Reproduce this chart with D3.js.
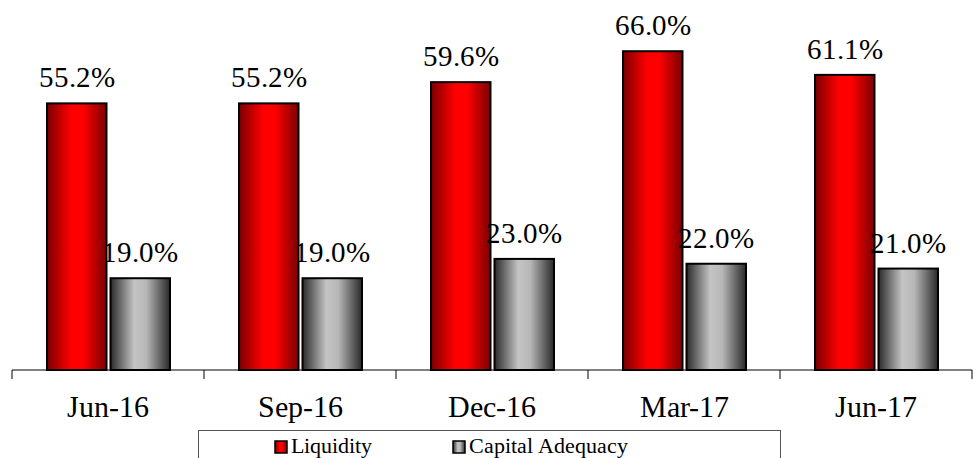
<html><head><meta charset="utf-8">
<script src="https://cdn.jsdelivr.net/npm/d3@7"></script>
<style>
@font-face{font-family:"ChartSerif";src:local("Liberation Serif"),local("LiberationSerif"),local("LiberationSerif-Regular"),local("Times New Roman");}
</style>
</head><body style="margin:0">
<script>
const categories = ["Jun-16","Sep-16","Dec-16","Mar-17","Jun-17"];
const seriesNames = ["Liquidity","Capital Adequacy"];
const liquidity = [55.2,55.2,59.6,66.0,61.1];
const capitalAdequacy = [19.0,19.0,23.0,22.0,21.0];
const valueLabels = [["55.2%","55.2%","59.6%","66.0%","61.1%"],["19.0%","19.0%","23.0%","22.0%","21.0%"]];

const FONT="ChartSerif, Liberation Serif, Times New Roman, serif";
const W=973,H=458;
const svg=d3.select("body").append("svg").attr("width",W).attr("height",H).style("display","block");
const defs=svg.append("defs");
const grads=[["gRed",["#7a0000","#ff0000","#ff0000","#7a0000"]],["gGray",["#2a2a2a","#c4c4c4","#b8b8b8","#2a2a2a"]]];
grads.forEach(([id,cols])=>{
  const g=defs.append("linearGradient").attr("id",id).attr("x1","0").attr("x2","1").attr("y1","0").attr("y2","0");
  [0,0.4,0.6,1].forEach((o,i)=>g.append("stop").attr("offset",o).attr("stop-color",cols[i]));
});
const fills=["url(#gRed)","url(#gGray)"];
const base=370;
const x0=d3.scaleBand().domain(categories).range([12,972]);
const x1=d3.scaleBand().domain(seriesNames).range([35,158]).paddingInner(0.063);
const y=d3.scaleLinear().domain([0,70]).range([base,base-70*4.83]);

const data=[liquidity,capitalAdequacy];
seriesNames.forEach((s,si)=>{
  categories.forEach((c,ci)=>{
    const v=data[si][ci];
    const bx=x0(c)+x1(s);
    svg.append("rect").attr("x",bx).attr("y",y(v)).attr("width",x1.bandwidth()).attr("height",base-y(v))
      .attr("fill",fills[si]).attr("stroke","#000").attr("stroke-width",2);
  });
});
seriesNames.forEach((s,si)=>{
  categories.forEach((c,ci)=>{
    const v=data[si][ci];
    const bx=x0(c)+x1(s);
    svg.append("text").attr("x",bx+x1.bandwidth()/2).attr("y",y(v)-16).attr("text-anchor","middle")
      .style("font-family",FONT).attr("font-size",29).text(valueLabels[si][ci]);
  });
});

// axis
const ax=svg.append("g").attr("transform",`translate(0,${base})`);
ax.append("line").attr("x1",12).attr("x2",972).attr("stroke","#000").attr("stroke-width",1);
const ticks=categories.map(c=>x0(c)).concat([972]);
ticks.forEach(t=>ax.append("line").attr("x1",t).attr("x2",t).attr("y1",0).attr("y2",9).attr("stroke","#000"));
categories.forEach(c=>svg.append("text").attr("x",x0(c)+x0.bandwidth()/2).attr("y",417).attr("text-anchor","middle")
  .style("font-family",FONT).attr("font-size",30).text(c));

// legend
svg.append("rect").attr("x",198.5).attr("y",430.5).attr("width",582).attr("height",40).attr("fill","none").attr("stroke","#555").attr("stroke-width",1);
const lx=[275,453];
seriesNames.forEach((s,i)=>{
  svg.append("rect").attr("x",lx[i]).attr("y",441).attr("width",12).attr("height",12).attr("fill",fills[i]).attr("stroke","#000").attr("stroke-width",1.5);
  svg.append("text").attr("x",lx[i]+16).attr("y",453).style("font-family",FONT).attr("font-size",22).text(s);
});
</script>
</body></html>
